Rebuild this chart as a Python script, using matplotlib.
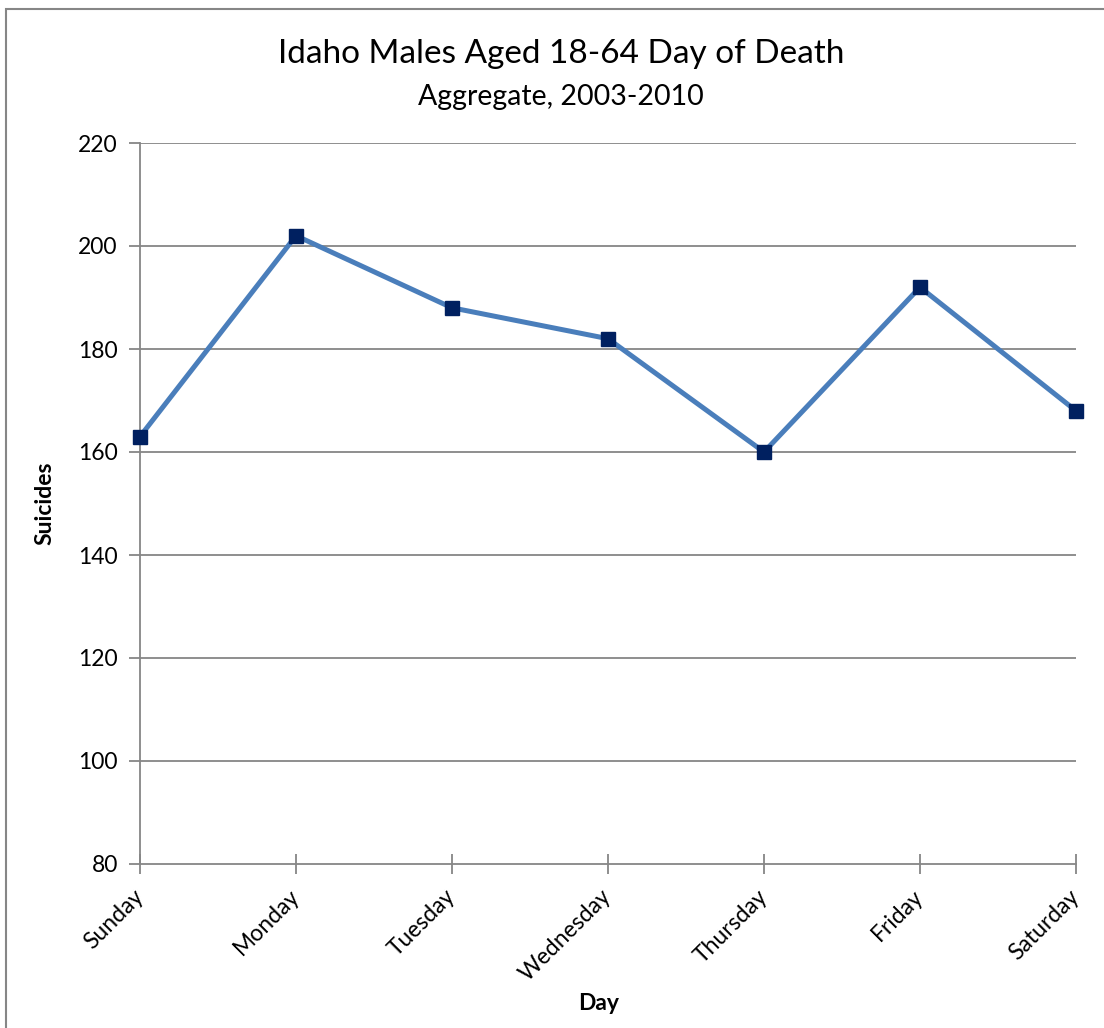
import matplotlib.pyplot as plt
from matplotlib.patches import Rectangle

plt.rcParams['font.family'] = ['Lato', 'DejaVu Sans']

# Data
days = ['Sunday', 'Monday', 'Tuesday', 'Wednesday', 'Thursday', 'Friday', 'Saturday']
suicides = [163, 202, 188, 182, 160, 192, 168]
y_ticks = [80, 100, 120, 140, 160, 180, 200, 220]

fig = plt.figure(figsize=(11.04, 10.28), dpi=100)
ax = fig.add_axes([140/1104, 1 - 864/1028, (1076 - 140)/1104, (864 - 143)/1028])

grid_col = '#868686'
x = list(range(len(days)))
for v in y_ticks[1:]:
    ax.axhline(v, color=grid_col, lw=1.3, zorder=1)

ax.plot(x, suicides, color='#4A7EBB', lw=3.6, zorder=3, clip_on=False,
        marker='s', markersize=10, markerfacecolor='#002060',
        markeredgecolor='#002060')

ax.set_xlim(0, 6)
ax.set_ylim(80, 220)
ax.set_yticks(y_ticks)
ax.set_xticks(x)
ax.set_xticklabels(days, rotation=45, ha='right', va='center',
                   rotation_mode='anchor', fontsize=16.5)
ax.tick_params(axis='x', direction='inout', length=14, width=1.3,
               color=grid_col, pad=14)
ax.tick_params(axis='y', direction='out', length=8, width=1.3,
               color=grid_col, labelsize=16.5, pad=8)

for s in ['top', 'right']:
    ax.spines[s].set_visible(False)
for s in ['left', 'bottom']:
    ax.spines[s].set_color(grid_col)
    ax.spines[s].set_linewidth(1.3)

ax.set_ylabel('Suicides', fontsize=16.5, fontweight='bold', labelpad=16)
fig.text(599/1104, 1 - 1003/1028, 'Day', fontsize=16.5, fontweight='bold',
         ha='center', va='center')

fig.text(561/1104, 1 - 54/1028, 'Idaho Males Aged 18-64 Day of Death',
         fontsize=24, ha='center', va='center')
fig.text(561/1104, 1 - 97/1028, 'Aggregate, 2003-2010',
         fontsize=20.5, ha='center', va='center')

# outer chart border (runs off the right/bottom edge)
fig.patches.append(Rectangle((6/1104, -0.1), 1.2, 1.1 - 9/1028,
                             transform=fig.transFigure, fill=False,
                             edgecolor='#868686', lw=1.5))

fig.savefig('out.png', dpi=100)
